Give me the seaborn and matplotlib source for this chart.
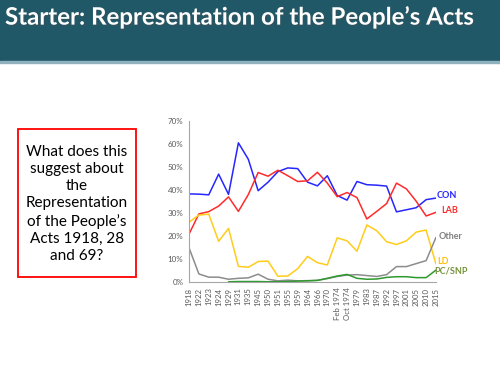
import numpy as np
import pandas as pd
import seaborn as sns
from matplotlib import pyplot as plt
from matplotlib.patches import Rectangle
import matplotlib.patheffects as pe

years = ['1918', '1922', '1923', '1924', '1929', '1931', '1935', '1945', '1950',
         '1951', '1955', '1959', '1964', '1966', '1970', 'Feb 1974', 'Oct 1974',
         '1979', '1983', '1987', '1992', '1997', '2001', '2005', '2010', '2015']

con = [38.3, 38.2, 37.9, 46.9, 38.1, 60.5, 53.4, 39.7, 43.4, 48.0, 49.6, 49.3,
       43.4, 41.8, 46.2, 37.6, 35.6, 43.7, 42.3, 42.1, 41.7, 30.5, 31.4, 32.3,
       35.8, 36.5]
lab = [20.8, 29.6, 30.6, 33.0, 37.0, 30.7, 38.0, 47.6, 46.0, 48.6, 46.2, 43.7,
       44.0, 47.7, 43.0, 37.1, 38.9, 36.7, 27.4, 30.7, 34.1, 43.0, 40.5, 35.1,
       28.7, 30.3]
ld = [26.0, 29.1, 29.5, 17.7, 23.3, 6.8, 6.4, 8.9, 9.1, 2.5, 2.6, 5.8, 11.1,
      8.4, 7.4, 19.2, 17.9, 13.4, 24.8, 22.3, 17.5, 16.3, 17.9, 21.7, 22.6, 7.8]
other = [14.9, 3.5, 2.1, 2.1, 1.2, 1.6, 1.8, 3.4, 1.2, 0.5, 0.8, 0.5, 0.6, 0.7,
         1.5, 2.4, 3.0, 3.2, 2.8, 2.4, 3.2, 6.7, 6.7, 8.0, 9.3, 19.4]
pcsnp = [np.nan, np.nan, np.nan, np.nan, 0.1, 0.2, 0.2, 0.2, 0.1, 0.1, 0.2, 0.4,
         0.5, 0.7, 1.6, 2.6, 3.3, 1.6, 1.2, 1.3, 2.0, 2.3, 2.3, 1.9, 1.9, 5.2]

parties = ['CON', 'LAB', 'LD', 'Other', 'PC/SNP']
colours = {'CON': '#2626ff', 'LAB': '#ff2a2a', 'LD': '#ffcc1a',
           'Other': '#8c8c8c', 'PC/SNP': '#2e9a2e'}
label_colours = {'CON': '#2626ff', 'LAB': '#ff2a2a', 'LD': '#ffc000',
                 'Other': '#808080', 'PC/SNP': '#77933c'}

df = pd.DataFrame({'CON': con, 'LAB': lab, 'LD': ld, 'Other': other, 'PC/SNP': pcsnp})
df['idx'] = np.arange(len(years))
long_df = df.melt(id_vars='idx', var_name='party', value_name='share')

sns.set_theme(style='white')
plt.rcParams['font.family'] = ['Lato', 'DejaVu Sans']

fig = plt.figure(figsize=(5, 3.75), dpi=100)

# slide header bar
fig.patches.append(Rectangle((0, 1 - 61 / 375), 1, 61 / 375, transform=fig.transFigure,
                             color='#215868', zorder=0))
fig.patches.append(Rectangle((0, 1 - 62.5 / 375), 1, 1.5 / 375, transform=fig.transFigure,
                             color='#8fb0bd', zorder=0))
fig.text(0.01, 1 - 17 / 375, 'Starter: Representation of the People\u2019s Acts',
         color='white', fontsize=17.3, fontweight='bold', va='center', ha='left',
         path_effects=[pe.withSimplePatchShadow(offset=(1, -1), alpha=0.4)])

# question box
fig.patches.append(Rectangle((18 / 500, 1 - 277 / 375), 118 / 500, 148 / 375,
                             transform=fig.transFigure, fill=False,
                             edgecolor='#ff0000', linewidth=1.3))
fig.text(77 / 500, 1 - 204 / 375,
         'What does this\nsuggest about\nthe\nRepresentation\nof the People\u2019s\nActs 1918, 28\nand 69?',
         ha='center', va='center', fontsize=11, color='black', linespacing=1.3)

ax = fig.add_axes([189 / 500, 1 - 282 / 375, 247 / 500, 161 / 375])
sns.lineplot(data=long_df, x='idx', y='share', hue='party', hue_order=parties,
             palette=colours, linewidth=1.1, legend=False, ax=ax)

ax.set_xlim(0, len(years) - 1)
ax.set_ylim(0, 70)
ax.set_xticks(np.arange(len(years)))
ax.set_xticklabels(years, rotation=90, fontsize=5.6, color='#595959')
ax.set_yticks(np.arange(0, 71, 10))
ax.set_yticklabels([f'{v}%' for v in range(0, 71, 10)], fontsize=5.8, color='#595959')
ax.set_xlabel('')
ax.set_ylabel('')
for side in ['top', 'right']:
    ax.spines[side].set_visible(False)
for side in ['left', 'bottom']:
    ax.spines[side].set_color('#a6a6a6')
    ax.spines[side].set_linewidth(0.8)
ax.tick_params(axis='both', direction='out', length=2.5, width=0.6, color='#a6a6a6', pad=1.5)

label_pos = {'CON': (25.1, 37.4), 'LAB': (25.5, 31.3), 'Other': (25.3, 19.6),
             'LD': (25.1, 8.7), 'PC/SNP': (24.8, 4.9)}
for p in parties:
    x, y = label_pos[p]
    ax.text(x, y, p, color=label_colours[p], fontsize=6.5, fontweight='bold',
            ha='left', va='center', clip_on=False)

fig.savefig('out.png', dpi=100)
